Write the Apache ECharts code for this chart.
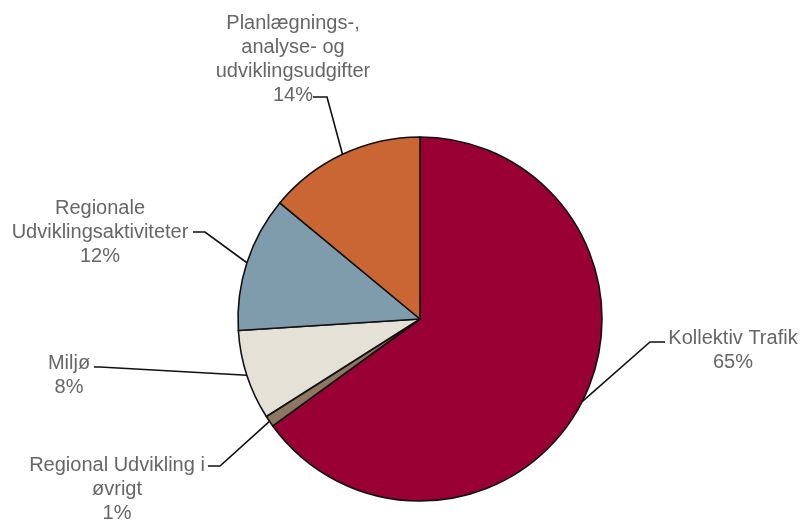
<!DOCTYPE html>
<html>
<head>
<meta charset="utf-8">
<script src="https://cdn.jsdelivr.net/npm/echarts@6/dist/echarts.min.js"></script>
<style>
html,body{margin:0;padding:0;background:#fff;}
#chart{width:802px;height:520px;}
</style>
</head>
<body>
<div id="chart"></div>
<script>
// Data
var categories = [
  "Kollektiv Trafik",
  "Regional Udvikling i øvrigt",
  "Miljø",
  "Regionale Udviklingsaktiviteter",
  "Planlægnings-, analyse- og udviklingsudgifter"
];
var labelTexts = [
  "Kollektiv Trafik",
  "Regional Udvikling i\nøvrigt",
  "Miljø",
  "Regionale\nUdviklingsaktiviteter",
  "Planlægnings-,\nanalyse- og\nudviklingsudgifter"
];
var values = [65, 1, 8, 12, 14];
var colors = ["#990033", "#8C7763", "#E6E1D6", "#7F9CAD", "#CA6634"];

// Label layout (positions of label blocks and leader elbows)
var labelLayouts = {
  "Kollektiv Trafik": {x: 733, y: 350, elbow: [650, 342], end: [665, 342]},
  "Regional Udvikling i øvrigt": {x: 117, y: 489, elbow: [220, 466], end: [208, 466]},
  "Miljø": {x: 69, y: 375, elbow: [100, 367], end: [94, 367]},
  "Regionale Udviklingsaktiviteter": {x: 100, y: 232, elbow: [205, 232], end: [193, 232]},
  "Planlægnings-, analyse- og udviklingsudgifter": {x: 293, y: 59, elbow: [327, 97], end: [313, 97]}
};

var seriesData = categories.map(function (c, i) {
  return {name: c, value: values[i], itemStyle: {color: colors[i]}};
});

var chart = echarts.init(document.getElementById('chart'), null, {renderer: 'canvas'});
var total = values.reduce(function (a, b) { return a + b; }, 0);
chart.setOption({
  animation: false,
  backgroundColor: '#ffffff',
  series: [{
    type: 'pie',
    center: [420, 319],
    radius: 182,
    startAngle: 90,
    clockwise: true,
    avoidLabelOverlap: false,
    data: seriesData,
    itemStyle: {borderColor: '#111111', borderWidth: 1.6},
    label: {
      show: true,
      position: 'outside',
      formatter: function (p) {
        return labelTexts[p.dataIndex] + '\n' + Math.round(p.value / total * 100) + '%';
      },
      color: '#666666',
      fontFamily: 'Liberation Sans, Arial, sans-serif',
      fontSize: 20,
      lineHeight: 24,
      align: 'center'
    },
    labelLine: {
      show: true,
      length: 20,
      length2: 10,
      lineStyle: {color: '#111111', width: 1.6}
    },
    labelLayout: function (params) {
      var L = labelLayouts[categories[params.dataIndex]];
      var start = params.labelLinePoints ? params.labelLinePoints[0] : L.elbow;
      return {
        x: L.x,
        y: L.y,
        align: 'center',
        verticalAlign: 'middle',
        moveOverlap: false,
        labelLinePoints: [start, L.elbow, L.end]
      };
    }
  }]
});
</script>
</body>
</html>
